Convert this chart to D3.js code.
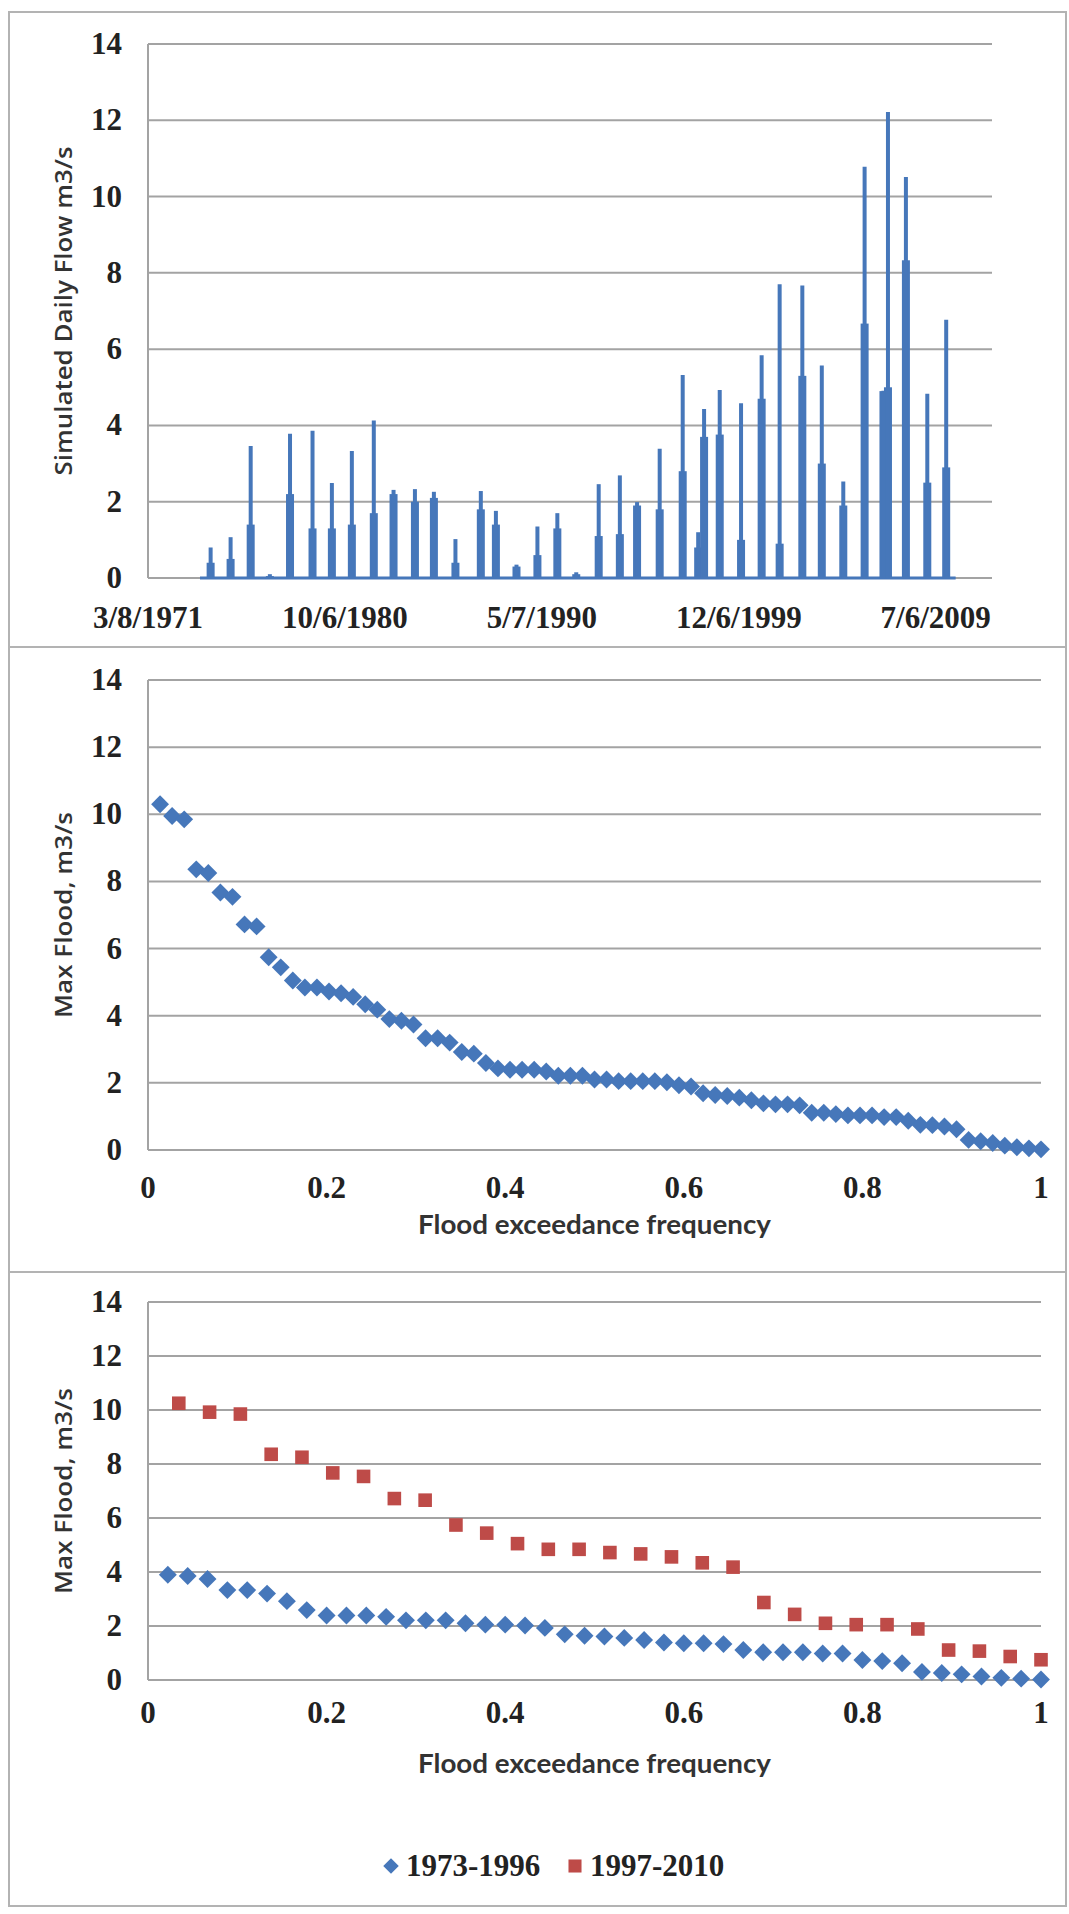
<!DOCTYPE html>
<html>
<head>
<script src="https://d3js.org/d3.v7.min.js"></script>
<style>
  body { margin: 0; background: #fff; }
  .num { font-family: "Liberation Serif", serif; font-weight: bold; font-size: 31px; fill: #222; }
  .title { font-family: "Open Sans", sans-serif; font-weight: 600; fill: #333; }
</style>
</head>
<body>
<script>
// ---- top panel: simulated daily flow (one spike per flood event) ----
var eventDates = ["1974-03-25", "1975-03-15", "1976-03-06", "1977-02-10", "1978-02-03", "1979-03-10",
  "1980-02-17", "1981-02-06", "1982-03-03", "1983-02-17", "1984-03-03", "1985-02-03", "1986-02-21",
  "1987-05-18", "1988-02-10", "1989-02-10", "1990-02-17", "1991-02-06", "1992-01-08", "1993-02-10",
  "1994-02-21", "1994-12-24", "1996-01-30", "1997-03-14", "1997-12-14", "1998-03-29", "1999-01-01",
  "2000-01-15", "2001-01-15", "2001-12-01", "2003-01-08", "2003-12-20", "2005-01-05", "2006-01-19",
  "2006-12-20", "2007-03-10", "2008-01-23", "2009-02-06", "2010-01-08"];
var eventPeaks = [0.80, 1.07, 3.46, 0.10, 3.78, 3.86, 2.49, 3.33, 4.13, 2.31, 2.33, 2.26, 1.02,
  2.28, 1.76, 0.35, 1.35, 1.70, 0.15, 2.46, 2.69, 1.99, 3.39, 5.32, 1.20, 4.43, 4.93,
  4.58, 5.84, 7.70, 7.67, 5.57, 2.53, 10.78, 4.91, 12.22, 10.51, 4.83, 6.77];
// lower, wider part of each spike
var eventBase = [0.40, 0.50, 1.40, 0.05, 2.20, 1.30, 1.30, 1.40, 1.70, 2.20, 2.00, 2.10, 0.40,
  1.80, 1.40, 0.30, 0.60, 1.30, 0.10, 1.10, 1.15, 1.90, 1.80, 2.80, 0.80, 3.70, 3.76,
  1.00, 4.70, 0.90, 5.30, 3.00, 1.90, 6.67, 4.90, 5.00, 8.33, 2.50, 2.90];
var flowStart = "1973-09-17", flowEnd = "2010-06-25";
var dateTicks = ["1971-03-08", "1980-10-06", "1990-05-07", "1999-12-06", "2009-07-06"];
var dateDomain = ["1971-03-08", "2012-04-01"];

// ---- middle panel: all annual maxima, ranked ----
var allMax = [10.30, 9.95, 9.85, 8.36, 8.25, 7.67, 7.54, 6.72, 6.66, 5.74, 5.44, 5.05, 4.84, 4.84,
  4.72, 4.67, 4.56, 4.34, 4.18, 3.90, 3.85, 3.74, 3.33, 3.33, 3.20, 2.92, 2.87, 2.59, 2.43, 2.39,
  2.39, 2.39, 2.34, 2.21, 2.21, 2.21, 2.10, 2.10, 2.05, 2.05, 2.05, 2.05, 2.02, 1.93, 1.89, 1.69,
  1.64, 1.61, 1.56, 1.48, 1.39, 1.36, 1.36, 1.33, 1.11, 1.11, 1.07, 1.03, 1.03, 1.03, 0.98, 0.98,
  0.87, 0.75, 0.74, 0.70, 0.62, 0.30, 0.26, 0.21, 0.13, 0.08, 0.05, 0.02];

// ---- bottom panel: two periods ----
var maxEarly = [3.90, 3.85, 3.74, 3.33, 3.33, 3.20, 2.92, 2.59, 2.39, 2.39, 2.39, 2.34, 2.21, 2.21,
  2.21, 2.10, 2.05, 2.05, 2.02, 1.93, 1.69, 1.64, 1.61, 1.56, 1.48, 1.39, 1.36, 1.36, 1.33, 1.11,
  1.03, 1.03, 1.03, 0.98, 0.98, 0.74, 0.70, 0.62, 0.30, 0.26, 0.21, 0.13, 0.08, 0.05, 0.02];
var maxLate = [10.25, 9.92, 9.85, 8.36, 8.25, 7.67, 7.54, 6.72, 6.66, 5.74, 5.44, 5.05, 4.84, 4.84,
  4.72, 4.67, 4.56, 4.34, 4.18, 2.87, 2.43, 2.10, 2.05, 2.05, 1.89, 1.11, 1.07, 0.87, 0.75];
var seriesNames = ["1973-1996", "1997-2010"];

var yTicks = [0, 2, 4, 6, 8, 10, 12, 14];
var freqTicks = [0, 0.2, 0.4, 0.6, 0.8, 1];

var blue = "#4677ba", red = "#be4b48", grid = "#a3a3a3";

var svg = d3.select("body").append("svg")
  .attr("width", 1069).attr("height", 1914);

// outer frame and panel separators
svg.append("rect").attr("x", 9).attr("y", 12).attr("width", 1057).attr("height", 1894)
  .attr("fill", "none").attr("stroke", "#b3b3b3").attr("stroke-width", 2);
[647, 1272].forEach(function (y) {
  svg.append("line").attr("x1", 9).attr("x2", 1066).attr("y1", y).attr("y2", y)
    .attr("stroke", "#b3b3b3").attr("stroke-width", 2);
});

// gridlines, y axis line and y tick labels
function yFrame(y, x0, x1, title, titleLen) {
  svg.append("g").selectAll("line").data(yTicks).enter().append("line")
    .attr("x1", x0).attr("x2", x1)
    .attr("y1", function (d) { return y(d); }).attr("y2", function (d) { return y(d); })
    .attr("stroke", grid).attr("stroke-width", 2);
  svg.append("line").attr("x1", x0).attr("x2", x0)
    .attr("y1", y(14)).attr("y2", y(0)).attr("stroke", grid).attr("stroke-width", 2);
  svg.append("g").selectAll("text").data(yTicks).enter().append("text")
    .attr("class", "num").attr("text-anchor", "end")
    .attr("x", 122).attr("y", function (d) { return y(d) + 10; })
    .text(function (d) { return d; });
  var cy = (y(0) + y(14)) / 2;
  svg.append("text").attr("class", "title")
    .attr("transform", "translate(72," + cy + ") rotate(-90)")
    .attr("text-anchor", "middle").style("font-size", "23px")
    .attr("textLength", titleLen).attr("lengthAdjust", "spacingAndGlyphs")
    .text(title);
}

function freqAxis(x, yPos, titleY) {
  svg.append("g").selectAll("text").data(freqTicks).enter().append("text")
    .attr("class", "num").attr("text-anchor", "middle")
    .attr("x", function (d) { return x(d); }).attr("y", yPos + 10)
    .text(function (d) { return d; });
  svg.append("text").attr("class", "title")
    .attr("x", (x(0) + x(1)) / 2).attr("y", titleY + 9)
    .attr("text-anchor", "middle")
    .style("font-family", "Lato, sans-serif").style("font-size", "26px").style("font-weight", "bold")
    .attr("textLength", 353).attr("lengthAdjust", "spacingAndGlyphs")
    .text("Flood exceedance frequency");
}

function diamond(sel, color) {
  sel.append("path").attr("d", d3.symbol().type(d3.symbolSquare).size(160)())
    .attr("fill", color);
}

// ---------------- panel 1 ----------------
var parse = d3.timeParse("%Y-%m-%d");
var x1 = d3.scaleTime().domain(dateDomain.map(parse)).range([148, 992]);
var y1 = d3.scaleLinear().domain([0, 14]).range([578, 44]);
yFrame(y1, 148, 992, "Simulated Daily Flow m3/s", 329);

var events = eventDates.map(function (d, i) {
  return { date: parse(d), peak: eventPeaks[i], base: eventBase[i] };
});
var flow = svg.append("g").attr("fill", blue).attr("stroke", blue);
flow.append("line")
  .attr("x1", x1(parse(flowStart))).attr("x2", x1(parse(flowEnd)))
  .attr("y1", y1(0)).attr("y2", y1(0)).attr("stroke-width", 3);
flow.selectAll("rect").data(events).enter().append("rect")
  .attr("x", function (d) { return x1(d.date) - 4; })
  .attr("width", 8)
  .attr("y", function (d) { return y1(d.base); })
  .attr("height", function (d) { return y1(0) - y1(d.base); })
  .attr("stroke", "none");
flow.selectAll("line.peak").data(events).enter().append("line")
  .attr("class", "peak")
  .attr("x1", function (d) { return x1(d.date); }).attr("x2", function (d) { return x1(d.date); })
  .attr("y1", y1(0)).attr("y2", function (d) { return y1(d.peak); })
  .attr("stroke-width", 4);

svg.append("g").selectAll("text").data(dateTicks).enter().append("text")
  .attr("class", "num").attr("text-anchor", "middle")
  .attr("x", function (d) { return x1(parse(d)); }).attr("y", 628)
  .text(function (d) { return d3.timeFormat("%-m/%-d/%Y")(parse(d)); });

// ---------------- panel 2 ----------------
var x2 = d3.scaleLinear().domain([0, 1]).range([148, 1041]);
var y2 = d3.scaleLinear().domain([0, 14]).range([1150, 680]);
yFrame(y2, 148, 1041, "Max Flood, m3/s", 206);
freqAxis(x2, 1188, 1225);
svg.append("g").selectAll("g").data(allMax).enter().append("g")
  .attr("transform", function (d, i) {
    return "translate(" + x2((i + 1) / allMax.length) + "," + y2(d) + ") rotate(45)";
  })
  .call(diamond, blue);

// ---------------- panel 3 ----------------
var y3 = d3.scaleLinear().domain([0, 14]).range([1680, 1302]);
yFrame(y3, 148, 1041, "Max Flood, m3/s", 206);
freqAxis(x2, 1713, 1764);
svg.append("g").selectAll("g").data(maxEarly).enter().append("g")
  .attr("transform", function (d, i) {
    return "translate(" + x2((i + 1) / maxEarly.length) + "," + y3(d) + ") rotate(45)";
  })
  .call(diamond, blue);
svg.append("g").selectAll("path").data(maxLate).enter().append("path")
  .attr("d", d3.symbol().type(d3.symbolSquare).size(185)())
  .attr("transform", function (d, i) {
    return "translate(" + x2((i + 1) / maxLate.length) + "," + y3(d) + ")";
  })
  .attr("fill", red);

// legend
var legend = svg.append("g");
var lg1 = legend.append("g").attr("transform", "translate(391,1866) rotate(45)");
lg1.append("path").attr("d", d3.symbol().type(d3.symbolSquare).size(120)()).attr("fill", blue);
legend.append("path").attr("d", d3.symbol().type(d3.symbolSquare).size(170)())
  .attr("transform", "translate(575,1866)").attr("fill", red);
legend.selectAll("text").data(seriesNames).enter().append("text")
  .attr("class", "num")
  .attr("x", function (d, i) { return i === 0 ? 406 : 590; })
  .attr("y", 1876)
  .text(function (d) { return d; });
</script>
</body>
</html>
